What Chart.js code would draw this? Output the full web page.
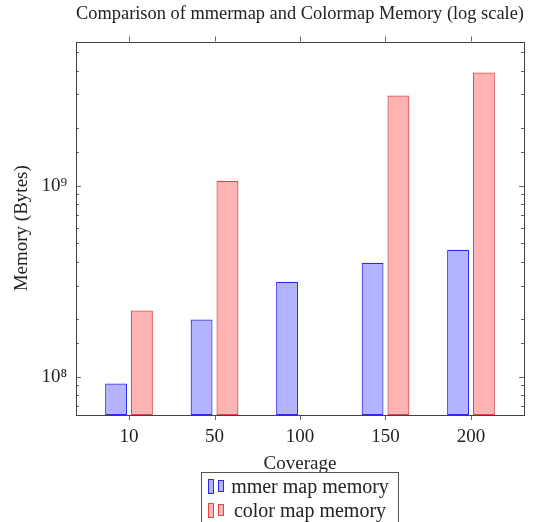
<!DOCTYPE html>
<html>
<head>
<meta charset="utf-8">
<script src="https://cdn.jsdelivr.net/npm/chart.js@4/dist/chart.umd.min.js"></script>
<style>
  body { margin: 0; background: #fff; }
  #wrap { position: relative; width: 547px; height: 522px; overflow: hidden; }
  #legend {
    position: absolute; left: 201px; top: 472px; width: 198px; height: 60px;
    border: 1px solid #555; box-sizing: border-box;
    font-family: "Liberation Serif", serif; font-size: 20px; color: #222;
  }
  .row { display: flex; align-items: center; height: 22px; padding-left: 6px; margin-top: 2px; }
  .ico { display: inline-block; box-sizing: border-box; }
  .ico.a { width: 6px; height: 15px; margin-right: 4px; }
  .ico.b { width: 6px; height: 12px; margin-right: 2px; }
  .txt { flex: 1; text-align: center; padding-right: 4px; }
</style>
</head>
<body>
<div id="wrap">
  <canvas id="memChart"></canvas>
  <div id="legend"></div>
</div>
<script>
const categories = ["10", "50", "100", "150", "200"];
const mmerMemory = [9.2e7, 1.99e8, 3.14e8, 3.95e8, 4.62e8];
const colorMemory = [2.22e8, 1.06e9, null, 2.96e9, 3.91e9];
const yTickLabels = { 8: "10⁸", 9: "10⁹" };

const FONT = "Liberation Serif";

// frame + pgfplots style tick marks
const framePlugin = {
  id: "frame",
  afterDraw(chart) {
    const ctx = chart.ctx;
    const a = chart.chartArea;
    const x = chart.scales.x, y = chart.scales.y;
    ctx.save();
    ctx.strokeStyle = "#666";
    ctx.lineWidth = 1;
    ctx.beginPath();
    // x ticks, outside, top and bottom
    x.ticks.forEach(t => {
      const px = Math.round(x.getPixelForValue(t.value)) + 0.5;
      ctx.moveTo(px, a.bottom); ctx.lineTo(px, a.bottom + 5);
      ctx.moveTo(px, a.top); ctx.lineTo(px, a.top - 5);
    });
    // y ticks, inside, left and right
    y.ticks.forEach(t => {
      const e = Math.log10(t.value);
      const len = Math.abs(e - Math.round(e)) < 1e-9 ? 5 : 3;
      const py = Math.round(y.getPixelForValue(t.value)) + 0.5;
      if (py < a.top || py > a.bottom) return;
      ctx.moveTo(a.left, py); ctx.lineTo(a.left + len, py);
      ctx.moveTo(a.right, py); ctx.lineTo(a.right - len, py);
    });
    ctx.stroke();
    ctx.strokeStyle = "#444";
    ctx.strokeRect(Math.round(a.left) + 0.5, Math.round(a.top) + 0.5,
      Math.round(a.right - a.left), Math.round(a.bottom - a.top));
    ctx.restore();
  }
};

const canvas = document.getElementById("memChart");
canvas.width = 547;
canvas.height = 522;
const ctx = canvas.getContext("2d");

const toPoints = arr => arr.map((v, i) => ({ x: i, y: v }));

const memChart = new Chart(ctx, {
  type: "bar",
  data: {
    datasets: [
      {
        label: "mmer map memory",
        data: toPoints(mmerMemory),
        backgroundColor: "#b3b3ff", // blue!30
        borderColor: "#2a2aee",
        borderWidth: 1.2,
        borderSkipped: false,
        inflateAmount: 0,
      },
      {
        label: "color map memory",
        data: toPoints(colorMemory),
        backgroundColor: "#ffb3b3", // red!30
        borderColor: "#dc4848",
        borderWidth: 1.2,
        borderSkipped: false,
        inflateAmount: 0,
      },
    ],
  },
  options: {
    responsive: false,
    animation: false,
    categoryPercentage: 0.605,
    barPercentage: 0.846,
    layout: { padding: { left: 0, right: 23, top: 0, bottom: 47 } },
    scales: {
      x: {
        type: "linear",
        offset: false,
        min: -0.62,
        max: 4.62,
        afterBuildTicks: s => { s.ticks = categories.map((c, i) => ({ value: i })); },
        afterFit: s => { s.height = 60; },
        grid: { display: false, drawTicks: false },
        border: { display: false },
        ticks: {
          callback: v => categories[v],
          font: { family: FONT, size: 19 },
          color: "#222",
          padding: 11,
          maxRotation: 0,
        },
        title: {
          display: true,
          text: "Coverage",
          font: { family: FONT, size: 19 },
          color: "#222",
          padding: { top: 2, bottom: 0 },
        },
      },
      y: {
        type: "logarithmic",
        min: 6.3e7,
        max: 5.68e9,
        afterFit: s => { s.width = 76; },
        grid: { display: false, drawTicks: false },
        border: { display: false },
        ticks: {
          autoSkip: false,
          callback: v => {
            const e = Math.log10(v);
            return Math.abs(e - Math.round(e)) < 1e-9 ? (yTickLabels[Math.round(e)] || "") : "";
          },
          font: { family: FONT, size: 19 },
          color: "#222",
          padding: 9,
        },
        title: {
          display: true,
          text: "Memory (Bytes)",
          font: { family: FONT, size: 19 },
          color: "#222",
          padding: { top: 11, bottom: 0 },
        },
      },
    },
    plugins: {
      legend: { display: false },
      tooltip: { enabled: false },
      title: {
        display: true,
        fullSize: false,
        align: "end",
        text: "Comparison of mmermap and Colormap Memory (log scale)",
        font: { family: FONT, size: 19.6, weight: "normal" },
        color: "#222",
        padding: { top: 2, bottom: 16 },
      },
    },
  },
  plugins: [framePlugin],
});

// legend box built from the datasets
const legend = document.getElementById("legend");
memChart.data.datasets.forEach(ds => {
  const row = document.createElement("div");
  row.className = "row";
  ["a", "b"].forEach(k => {
    const ico = document.createElement("span");
    ico.className = "ico " + k;
    ico.style.background = ds.backgroundColor;
    ico.style.border = "1px solid " + ds.borderColor;
    row.appendChild(ico);
  });
  const txt = document.createElement("span");
  txt.className = "txt";
  txt.textContent = ds.label;
  row.appendChild(txt);
  legend.appendChild(row);
});
</script>
</body>
</html>
